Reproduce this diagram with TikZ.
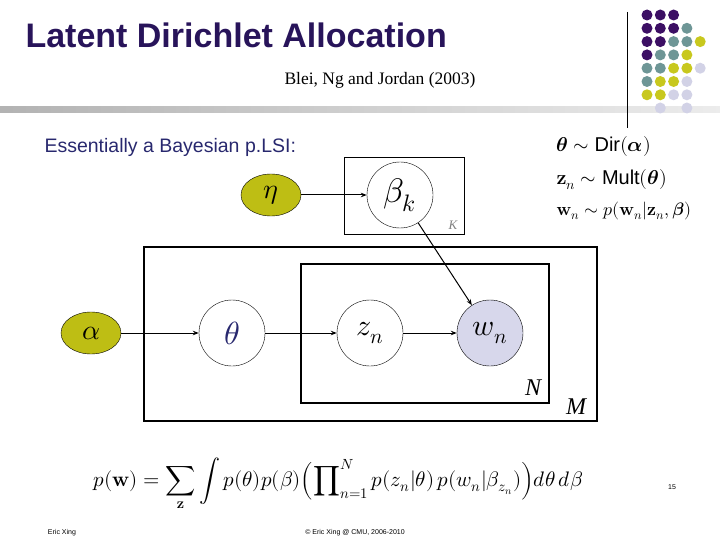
\documentclass[tikz,border=0pt]{standalone}
\usepackage{amsmath}
\usepackage{fontspec}
\usepackage{unicode-math}
\setmathfont{Latin Modern Math}
\newfontfamily\arialf{Liberation Sans}
\newfontfamily\timesf{Liberation Serif}
\usetikzlibrary{arrows.meta,shapes.geometric}
\definecolor{titlec}{RGB}{40,20,90}
\definecolor{olive}{RGB}{190,190,20}
\definecolor{dP}{RGB}{60,15,100}
\definecolor{dT}{RGB}{110,150,150}
\definecolor{dY}{RGB}{200,200,30}
\definecolor{dL}{RGB}{210,210,230}
\definecolor{wfill}{RGB}{215,215,235}
\definecolor{essc}{RGB}{40,40,110}
\newcommand{\fsz}[1]{\fontsize{#1}{#1}\selectfont}
\begin{document}
\begin{tikzpicture}[x=1pt,y=-1pt,
  var/.style={draw,ellipse,minimum width=66pt,minimum height=66pt,inner sep=0pt},
  hyper/.style={draw,ellipse,fill=olive,minimum width=60pt,minimum height=42pt,inner sep=0pt},
  plate/.style={draw,line width=2pt},
  arr/.style={-{Stealth[length=6pt]},line width=1pt},
  dot/.style={circle,inner sep=0pt,minimum size=11pt}]
\useasboundingbox (0,0) rectangle (720,540);
\node[anchor=west,font=\arialf\bfseries\fontsize{34}{38}\selectfont,text=titlec] (title) at (22,35) {Latent Dirichlet Allocation};
\node[font=\timesf\fontsize{17.5}{20}\selectfont] (cite) at (380,80) {Blei, Ng and Jordan (2003)};
\shade[left color=gray!60,right color=gray!15] (0,107) rectangle (720,113);
\draw[line width=0.8pt] (627,12) -- (627,128);
% dots
\foreach \r/\row in {0/{P,P,P},1/{P,P,P,T},2/{P,P,T,T,Y},3/{P,T,T,Y},4/{T,T,Y,Y,L},5/{T,Y,Y,L},6/{Y,Y,L,L}}{
  \foreach \c [count=\i from 0] in \row {
    \node[dot,fill=d\c] (d\r\i) at (647+13.3*\i,15+13.3*\r) {};
  }}
\node[dot,fill=dL] (d71) at (660.3,108) {};
\node[dot,fill=dL] (d73) at (686.9,108) {};
\node[anchor=west,font=\arialf\fontsize{19.5}{22}\selectfont,text=essc] (ess) at (41,147) {Essentially a Bayesian p.LSI:};
\node[anchor=west,font=\fsz{20}] (e1) at (553,147) {$\symbf\theta\sim\text{\arialf Dir}(\symbf\alpha)$};
\node[anchor=west,font=\fsz{20}] (e2) at (553,180) {$\mathbf z_n\sim\text{\arialf Mult}(\symbf\theta)$};
\node[anchor=west,font=\fsz{18}] (e3) at (553,211) {$\mathbf w_n\sim p(\mathbf w_n|\mathbf z_n,\symbf\beta)$};
% plates
\draw[draw=black,line width=0.6pt] (344,157) rectangle (464,234);
\node[text=gray,font=\timesf\itshape\fontsize{13}{14}\selectfont] (K) at (453,225) {K};
\draw[plate] (144,247) rectangle (597,421);
\draw[plate] (301,264) rectangle (549,403);
\node[font=\timesf\itshape\fontsize{24}{26}\selectfont] (N) at (533,388) {N};
\node[font=\timesf\itshape\fontsize{24}{26}\selectfont] (M) at (576,407) {M};
% nodes
\node[hyper,font=\fsz{28}] (eta) at (271,195) {$\eta$};
\node[var,font=\fsz{34}] (beta) at (400,195) {$\beta_k$};
\node[hyper,font=\fsz{28}] (alpha) at (91,333) {$\alpha$};
\node[var,text=essc,font=\fsz{32}] (theta) at (232,333) {$\theta$};
\node[var,font=\fsz{30}] (z) at (370,333) {$z_n$};
\node[var,fill=wfill,font=\fsz{30}] (w) at (490,333) {$w_n$};
\draw[arr] (eta) -- (beta);
\draw[arr] (alpha) -- (theta);
\draw[arr] (theta) -- (z);
\draw[arr] (z) -- (w);
\draw[arr] (beta) -- (w);
% formula
\node[font=\fsz{21}] (form) at (338,484) {$\displaystyle p(\mathbf w)=\sum_{\mathbf z}\int p(\theta)p(\beta)\Bigl(\prod\nolimits_{n=1}^{N}p(z_n|\theta)\,p(w_n|\beta_{z_n})\Bigr)d\theta\,d\beta$};
\node[font=\arialf\fontsize{7}{8}\selectfont] (pg) at (672,487) {15};
\node[font=\arialf\fontsize{7}{8}\selectfont] (auth) at (62,533) {Eric Xing};
\node[font=\arialf\fontsize{7}{8}\selectfont] (copy) at (355,533) {© Eric Xing @ CMU, 2006-2010};
\end{tikzpicture}
\end{document}
